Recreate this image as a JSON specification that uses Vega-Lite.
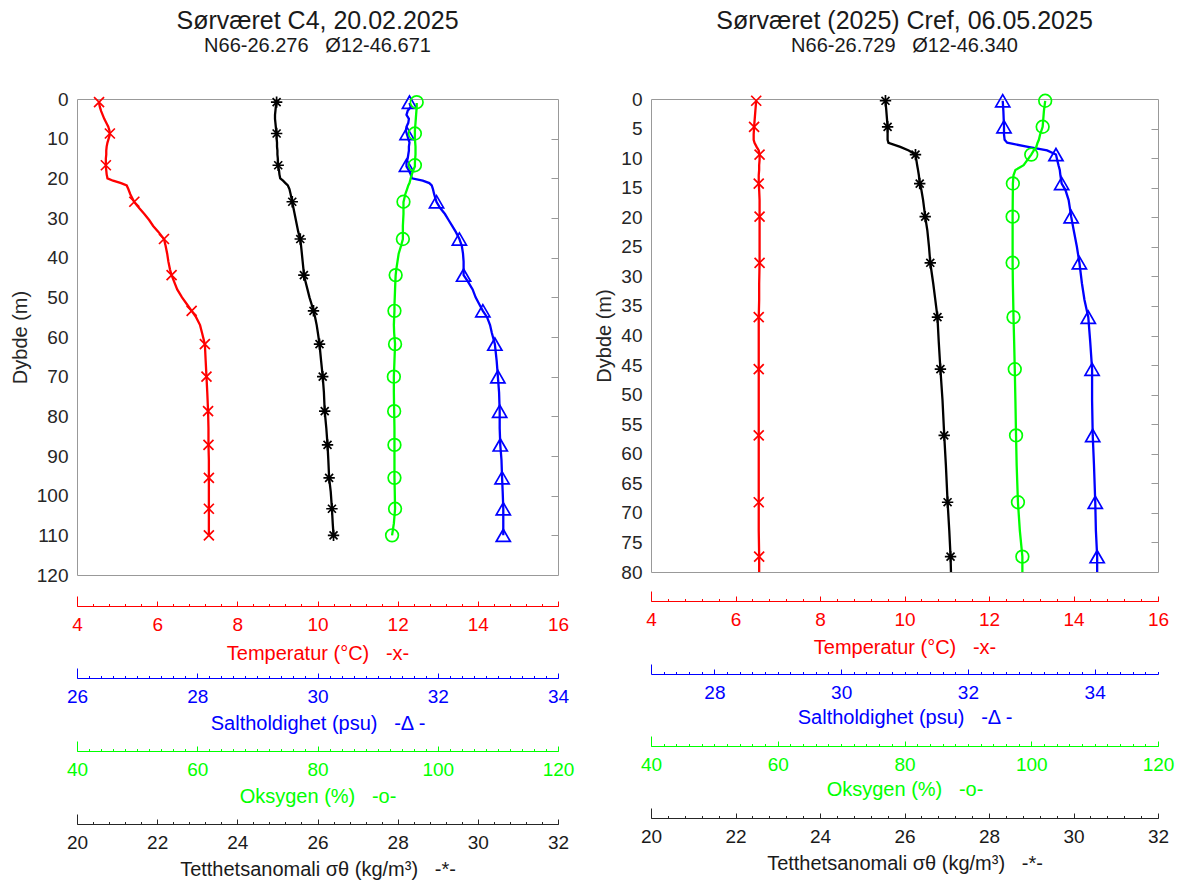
{
  "$schema": "https://vega.github.io/schema/vega-lite/v6.json",
  "padding": {"left": 9, "top": 8, "right": 0, "bottom": 0},
  "spacing": 19,
  "config": {
    "font": "Liberation Sans",
    "view": {"stroke": "#999999", "strokeWidth": 1},
    "axis": {"labelFont": "Liberation Sans", "titleFont": "Liberation Sans", "labelFontSize": 19, "titleFontSize": 20, "titleFontWeight": "normal", "grid": false, "labelFlush": false, "labelOverlap": false, "labelBound": false},
    "title": {"font": "Liberation Sans", "fontSize": 25, "fontWeight": "normal", "subtitleFont": "Liberation Sans", "subtitleFontSize": 20, "color": "#1a1a1a", "subtitleColor": "#1a1a1a", "anchor": "middle", "offset": 34, "subtitlePadding": 2}
  },
  "datasets": {
    "c4": [
      {"d":1,"T":4.55,"S":31.53,"O":96.5,"G":24.98},
      {"d":2,"T":4.57,"S":31.55,"O":96.5,"G":24.96},
      {"d":3,"T":4.6,"S":31.5,"O":96.45,"G":24.95},
      {"d":4,"T":4.64,"S":31.48,"O":96.4,"G":24.94},
      {"d":5,"T":4.68,"S":31.52,"O":96.35,"G":24.94},
      {"d":6,"T":4.73,"S":31.51,"O":96.3,"G":24.95},
      {"d":7,"T":4.78,"S":31.48,"O":96.25,"G":24.96},
      {"d":8,"T":4.81,"S":31.47,"O":96.2,"G":24.97},
      {"d":9,"T":4.82,"S":31.49,"O":96.2,"G":24.98},
      {"d":10,"T":4.79,"S":31.51,"O":96.2,"G":24.98},
      {"d":11,"T":4.76,"S":31.53,"O":96.25,"G":24.99},
      {"d":12,"T":4.74,"S":31.52,"O":96.3,"G":24.99},
      {"d":13,"T":4.73,"S":31.52,"O":96.3,"G":25.0},
      {"d":14,"T":4.73,"S":31.51,"O":96.3,"G":25.0},
      {"d":15,"T":4.72,"S":31.5,"O":96.25,"G":25.01},
      {"d":16,"T":4.72,"S":31.48,"O":96.2,"G":25.01},
      {"d":17,"T":4.72,"S":31.48,"O":96.2,"G":25.02},
      {"d":18,"T":4.73,"S":31.52,"O":95.9,"G":25.04},
      {"d":19,"T":4.74,"S":31.55,"O":95.7,"G":25.05},
      {"d":20,"T":4.76,"S":31.57,"O":95.5,"G":25.07},
      {"d":20.6,"T":4.9,"S":31.75,"O":95.4,"G":25.14},
      {"d":21.2,"T":5.1,"S":31.86,"O":95.3,"G":25.2},
      {"d":21.8,"T":5.24,"S":31.9,"O":95.1,"G":25.26},
      {"d":22.7,"T":5.28,"S":31.92,"O":94.9,"G":25.3},
      {"d":24,"T":5.33,"S":31.94,"O":94.6,"G":25.33},
      {"d":25,"T":5.38,"S":31.96,"O":94.45,"G":25.35},
      {"d":26,"T":5.43,"S":31.98,"O":94.3,"G":25.37},
      {"d":27.5,"T":5.55,"S":32.04,"O":94.3,"G":25.4},
      {"d":29,"T":5.68,"S":32.12,"O":94.3,"G":25.43},
      {"d":30.5,"T":5.8,"S":32.18,"O":94.25,"G":25.46},
      {"d":32,"T":5.9,"S":32.24,"O":94.2,"G":25.49},
      {"d":33.5,"T":6.03,"S":32.3,"O":94.2,"G":25.52},
      {"d":35.3,"T":6.17,"S":32.36,"O":94.2,"G":25.57},
      {"d":37,"T":6.21,"S":32.4,"O":93.9,"G":25.59},
      {"d":39,"T":6.25,"S":32.42,"O":93.5,"G":25.61},
      {"d":41,"T":6.28,"S":32.43,"O":93.3,"G":25.63},
      {"d":43,"T":6.32,"S":32.43,"O":93.1,"G":25.65},
      {"d":44.4,"T":6.36,"S":32.43,"O":93.0,"G":25.66},
      {"d":46,"T":6.42,"S":32.5,"O":92.95,"G":25.7},
      {"d":48,"T":6.5,"S":32.58,"O":92.9,"G":25.75},
      {"d":50,"T":6.62,"S":32.63,"O":92.85,"G":25.8},
      {"d":52,"T":6.76,"S":32.7,"O":92.8,"G":25.86},
      {"d":53.4,"T":6.86,"S":32.75,"O":92.8,"G":25.9},
      {"d":55,"T":6.97,"S":32.82,"O":92.75,"G":25.94},
      {"d":57,"T":7.07,"S":32.87,"O":92.7,"G":25.98},
      {"d":59,"T":7.12,"S":32.9,"O":92.75,"G":26.01},
      {"d":61.8,"T":7.19,"S":32.95,"O":92.9,"G":26.05},
      {"d":66,"T":7.21,"S":32.98,"O":92.8,"G":26.09},
      {"d":70,"T":7.23,"S":33.0,"O":92.7,"G":26.13},
      {"d":74,"T":7.25,"S":33.02,"O":92.7,"G":26.16},
      {"d":78.7,"T":7.27,"S":33.03,"O":92.75,"G":26.18},
      {"d":83,"T":7.28,"S":33.03,"O":92.8,"G":26.22},
      {"d":87.2,"T":7.28,"S":33.04,"O":92.8,"G":26.25},
      {"d":91,"T":7.29,"S":33.06,"O":92.8,"G":26.27},
      {"d":95.5,"T":7.29,"S":33.07,"O":92.8,"G":26.29},
      {"d":99,"T":7.29,"S":33.08,"O":92.85,"G":26.33},
      {"d":103.3,"T":7.29,"S":33.09,"O":92.9,"G":26.36},
      {"d":107,"T":7.29,"S":33.09,"O":92.7,"G":26.38},
      {"d":110,"T":7.29,"S":33.09,"O":92.4,"G":26.4}
    ],
    "c4m": [
      {"d":0.8,"T":4.55,"S":31.53,"O":96.5,"G":24.98},
      {"d":8.7,"T":4.82,"S":31.49,"O":96.2,"G":24.98},
      {"d":16.7,"T":4.72,"S":31.48,"O":96.2,"G":25.02},
      {"d":25.9,"T":5.43,"S":31.98,"O":94.3,"G":25.37},
      {"d":35.3,"T":6.17,"S":32.36,"O":94.2,"G":25.57},
      {"d":44.4,"T":6.36,"S":32.43,"O":93.0,"G":25.66},
      {"d":53.4,"T":6.86,"S":32.75,"O":92.8,"G":25.9},
      {"d":61.8,"T":7.19,"S":32.95,"O":92.9,"G":26.05},
      {"d":70,"T":7.23,"S":33.0,"O":92.7,"G":26.13},
      {"d":78.7,"T":7.27,"S":33.03,"O":92.75,"G":26.18},
      {"d":87.2,"T":7.28,"S":33.04,"O":92.8,"G":26.25},
      {"d":95.5,"T":7.29,"S":33.07,"O":92.8,"G":26.29},
      {"d":103.3,"T":7.29,"S":33.09,"O":92.9,"G":26.36},
      {"d":110,"T":7.29,"S":33.09,"O":92.4,"G":26.4}
    ],
    "cref": [
      {"d":0.3,"T":6.49,"S":32.55,"O":102.2,"G":25.55},
      {"d":2,"T":6.47,"S":32.56,"O":102.0,"G":25.57},
      {"d":4.7,"T":6.44,"S":32.57,"O":101.8,"G":25.6},
      {"d":6,"T":6.43,"S":32.57,"O":101.4,"G":25.6},
      {"d":6.9,"T":6.43,"S":32.58,"O":101.2,"G":25.6},
      {"d":7.4,"T":6.45,"S":32.62,"O":101.0,"G":25.62},
      {"d":8.1,"T":6.5,"S":32.95,"O":100.8,"G":25.9},
      {"d":8.7,"T":6.55,"S":33.25,"O":100.4,"G":26.1},
      {"d":9.4,"T":6.57,"S":33.39,"O":100.0,"G":26.26},
      {"d":10.3,"T":6.57,"S":33.41,"O":99.4,"G":26.28},
      {"d":11.2,"T":6.56,"S":33.43,"O":98.8,"G":26.3},
      {"d":12,"T":6.56,"S":33.45,"O":97.5,"G":26.32},
      {"d":12.9,"T":6.55,"S":33.46,"O":97.2,"G":26.34},
      {"d":14.3,"T":6.55,"S":33.48,"O":97.1,"G":26.36},
      {"d":15.4,"T":6.56,"S":33.54,"O":97.1,"G":26.4},
      {"d":17.1,"T":6.57,"S":33.59,"O":97.08,"G":26.44},
      {"d":19.9,"T":6.57,"S":33.63,"O":97.06,"G":26.49},
      {"d":22.2,"T":6.57,"S":33.67,"O":97.06,"G":26.54},
      {"d":25,"T":6.57,"S":33.72,"O":97.06,"G":26.58},
      {"d":27.7,"T":6.57,"S":33.76,"O":97.06,"G":26.61},
      {"d":31.2,"T":6.56,"S":33.8,"O":97.1,"G":26.68},
      {"d":34,"T":6.56,"S":33.84,"O":97.15,"G":26.73},
      {"d":36.9,"T":6.55,"S":33.9,"O":97.2,"G":26.78},
      {"d":41,"T":6.55,"S":33.93,"O":97.3,"G":26.81},
      {"d":45.7,"T":6.55,"S":33.96,"O":97.4,"G":26.85},
      {"d":51,"T":6.55,"S":33.96,"O":97.5,"G":26.9},
      {"d":56.9,"T":6.55,"S":33.97,"O":97.6,"G":26.94},
      {"d":62,"T":6.55,"S":33.99,"O":97.7,"G":26.98},
      {"d":68.2,"T":6.55,"S":34.01,"O":97.9,"G":27.02},
      {"d":73,"T":6.55,"S":34.02,"O":98.2,"G":27.06},
      {"d":77.4,"T":6.56,"S":34.04,"O":98.6,"G":27.09},
      {"d":80,"T":6.56,"S":34.04,"O":98.6,"G":27.1}
    ],
    "crefm": [
      {"d":0.3,"T":6.49,"S":32.55,"O":102.2,"G":25.55},
      {"d":4.7,"T":6.44,"S":32.57,"O":101.8,"G":25.6},
      {"d":9.4,"T":6.57,"S":33.39,"O":100.0,"G":26.26},
      {"d":14.3,"T":6.55,"S":33.48,"O":97.1,"G":26.36},
      {"d":19.9,"T":6.57,"S":33.63,"O":97.06,"G":26.49},
      {"d":27.7,"T":6.57,"S":33.76,"O":97.06,"G":26.61},
      {"d":36.9,"T":6.55,"S":33.9,"O":97.2,"G":26.78},
      {"d":45.7,"T":6.55,"S":33.96,"O":97.4,"G":26.85},
      {"d":56.9,"T":6.55,"S":33.97,"O":97.6,"G":26.94},
      {"d":68.2,"T":6.55,"S":34.01,"O":97.9,"G":27.02},
      {"d":77.4,"T":6.56,"S":34.04,"O":98.6,"G":27.09}
    ]
  },
  "hconcat": [
    {
      "title": {"text": "Sørværet C4, 20.02.2025", "subtitle": "N66-26.276\u00a0\u00a0\u00a0Ø12-46.671"},
      "width": 481,
      "height": 476,
      "resolve": {"scale": {"x": "independent"}, "axis": {"x": "independent", "y": "independent"}},
      "layer": [
        {
          "encoding": {"y": {"field": "d", "type": "quantitative", "scale": {"domain": [0, 120], "reverse": true, "nice": false, "zero": false},
            "axis": {"orient": "left", "values": [0,10,20,30,40,50,60,70,80,90,100,110,120], "ticks": false, "domain": false, "labelPadding": 9, "labelColor": "#262626", "title": "Dybde (m)", "titleColor": "#262626", "titlePadding": 6}}},
          "resolve": {"axis": {"x": "independent"}},
          "layer": [
            {"data": {"name": "c4"}, "mark": {"type": "line", "color": "#ff0000", "strokeWidth": 2.3},
             "encoding": {"order": {"field": "d", "type": "quantitative"},
               "x": {"field": "T", "type": "quantitative", "scale": {"domain": [4, 16], "nice": false, "zero": false},
                 "axis": {"orient": "bottom", "offset": 31, "values": [4,6,8,10,12,14,16], "tickSize": -5, "tickColor": "#ff0000", "domainColor": "#ff0000", "labelColor": "#ff0000", "labelPadding": 14, "title": "Temperatur (°C)\u00a0\u00a0\u00a0-x-", "titleColor": "#ff0000", "titlePadding": 9}}}},
            {"data": {"name": "c4m"}, "mark": {"type": "point", "shape": "M-1,-1L1,1M-1,1L1,-1", "color": "#ff0000", "filled": false, "strokeWidth": 1.7, "size": 100, "opacity": 1},
             "encoding": {
               "x": {"field": "T", "type": "quantitative", "scale": {"domain": [4, 16], "nice": false, "zero": false},
                 "axis": {"orient": "bottom", "offset": 31, "values": [4,4.4,4.8,5.2,5.6,6,6.4,6.8,7.2,7.6,8,8.4,8.8,9.2,9.6,10,10.4,10.8,11.2,11.6,12,12.4,12.8,13.2,13.6,14,14.4,14.8,15.2,15.6,16], "labels": false, "domain": false, "tickSize": {"condition": {"test": "datum.value == 4", "value": -10}, "value": -2.5}, "tickColor": "#ff0000", "title": null}}}}
          ]
        },
        {
          "encoding": {"y": {"field": "d", "type": "quantitative", "scale": {"domain": [0, 120], "reverse": true, "nice": false, "zero": false},
            "axis": {"orient": "right", "values": [10,20,30,40,50,60,70,80,90,100,110], "labels": false, "domain": false, "tickSize": -7, "tickColor": "#999999", "title": null}}},
          "resolve": {"axis": {"x": "independent"}},
          "layer": [
            {"data": {"name": "c4"}, "mark": {"type": "line", "color": "#0000ff", "strokeWidth": 2.3},
             "encoding": {"order": {"field": "d", "type": "quantitative"},
               "x": {"field": "S", "type": "quantitative", "scale": {"domain": [26, 34], "nice": false, "zero": false},
                 "axis": {"orient": "bottom", "offset": 103, "values": [26,28,30,32,34], "tickSize": -5, "tickColor": "#0000ff", "domainColor": "#0000ff", "labelColor": "#0000ff", "labelPadding": 14, "title": "Saltholdighet (psu)\u00a0\u00a0\u00a0-Δ -", "titleColor": "#0000ff", "titlePadding": 7}}}},
            {"data": {"name": "c4m"}, "mark": {"type": "point", "shape": "triangle-up", "color": "#0000ff", "filled": false, "strokeWidth": 1.7, "size": 200, "opacity": 1},
             "encoding": {
               "x": {"field": "S", "type": "quantitative", "scale": {"domain": [26, 34], "nice": false, "zero": false},
                 "axis": {"orient": "bottom", "offset": 103, "values": [26,26.2,26.4,26.6,26.8,27,27.2,27.4,27.6,27.8,28,28.2,28.4,28.6,28.8,29,29.2,29.4,29.6,29.8,30,30.2,30.4,30.6,30.8,31,31.2,31.4,31.6,31.8,32,32.2,32.4,32.6,32.8,33,33.2,33.4,33.6,33.8,34], "labels": false, "domain": false, "tickSize": {"condition": {"test": "datum.value == 26", "value": -10}, "value": -2.5}, "tickColor": "#0000ff", "title": null}}}}
          ]
        },
        {
          "encoding": {"y": {"field": "d", "type": "quantitative", "scale": {"domain": [0, 120], "reverse": true, "nice": false, "zero": false}, "axis": null}},
          "resolve": {"axis": {"x": "independent"}},
          "layer": [
            {"data": {"name": "c4"}, "mark": {"type": "line", "color": "#00ff00", "strokeWidth": 2.3},
             "encoding": {"order": {"field": "d", "type": "quantitative"},
               "x": {"field": "O", "type": "quantitative", "scale": {"domain": [40, 120], "nice": false, "zero": false},
                 "axis": {"orient": "bottom", "offset": 176, "values": [40,60,80,100,120], "tickSize": -5, "tickColor": "#00ff00", "domainColor": "#00ff00", "labelColor": "#00ff00", "labelPadding": 14, "title": "Oksygen (%)\u00a0\u00a0\u00a0-o-", "titleColor": "#00ff00", "titlePadding": 7}}}},
            {"data": {"name": "c4m"}, "mark": {"type": "point", "shape": "circle", "color": "#00ff00", "filled": false, "strokeWidth": 1.7, "size": 160, "opacity": 1},
             "encoding": {
               "x": {"field": "O", "type": "quantitative", "scale": {"domain": [40, 120], "nice": false, "zero": false},
                 "axis": {"orient": "bottom", "offset": 176, "values": [40,42,44,46,48,50,52,54,56,58,60,62,64,66,68,70,72,74,76,78,80,82,84,86,88,90,92,94,96,98,100,102,104,106,108,110,112,114,116,118,120], "labels": false, "domain": false, "tickSize": {"condition": {"test": "datum.value == 40", "value": -10}, "value": -2.5}, "tickColor": "#00ff00", "title": null}}}}
          ]
        },
        {
          "encoding": {"y": {"field": "d", "type": "quantitative", "scale": {"domain": [0, 120], "reverse": true, "nice": false, "zero": false}, "axis": null}},
          "resolve": {"axis": {"x": "independent"}},
          "layer": [
            {"data": {"name": "c4"}, "mark": {"type": "line", "color": "#000000", "strokeWidth": 2.3},
             "encoding": {"order": {"field": "d", "type": "quantitative"},
               "x": {"field": "G", "type": "quantitative", "scale": {"domain": [20, 32], "nice": false, "zero": false},
                 "axis": {"orient": "bottom", "offset": 249, "values": [20,22,24,26,28,30,32], "tickSize": -5, "tickColor": "#262626", "domainColor": "#262626", "labelColor": "#1a1a1a", "labelPadding": 14, "title": "Tetthetsanomali σθ (kg/m³)\u00a0\u00a0\u00a0-*-", "titleColor": "#1a1a1a", "titlePadding": 7}}}},
            {"data": {"name": "c4m"}, "mark": {"type": "point", "shape": "M0,-1L0,1M-1,0L1,0M-0.7,-0.7L0.7,0.7M-0.7,0.7L0.7,-0.7", "color": "#000000", "filled": false, "strokeWidth": 1.7, "size": 130, "opacity": 1},
             "encoding": {
               "x": {"field": "G", "type": "quantitative", "scale": {"domain": [20, 32], "nice": false, "zero": false},
                 "axis": {"orient": "bottom", "offset": 249, "values": [20,20.4,20.8,21.2,21.6,22,22.4,22.8,23.2,23.6,24,24.4,24.8,25.2,25.6,26,26.4,26.8,27.2,27.6,28,28.4,28.8,29.2,29.6,30,30.4,30.8,31.2,31.6,32], "labels": false, "domain": false, "tickSize": {"condition": {"test": "datum.value == 20", "value": -10}, "value": -2.5}, "tickColor": "#262626", "title": null}}}}
          ]
        }
      ]
    },
    {
      "title": {"text": "Sørværet (2025) Cref, 06.05.2025", "subtitle": "N66-26.729\u00a0\u00a0\u00a0Ø12-46.340"},
      "width": 507,
      "height": 473,
      "resolve": {"scale": {"x": "independent"}, "axis": {"x": "independent", "y": "independent"}},
      "layer": [
        {
          "encoding": {"y": {"field": "d", "type": "quantitative", "scale": {"domain": [0, 80], "reverse": true, "nice": false, "zero": false},
            "axis": {"orient": "left", "values": [0,5,10,15,20,25,30,35,40,45,50,55,60,65,70,75,80], "ticks": false, "domain": false, "labelPadding": 9, "labelColor": "#262626", "title": "Dybde (m)", "titleColor": "#262626", "titlePadding": 6}}},
          "resolve": {"axis": {"x": "independent"}},
          "layer": [
            {"data": {"name": "cref"}, "mark": {"type": "line", "color": "#ff0000", "strokeWidth": 2.3},
             "encoding": {"order": {"field": "d", "type": "quantitative"},
               "x": {"field": "T", "type": "quantitative", "scale": {"domain": [4, 16], "nice": false, "zero": false},
                 "axis": {"orient": "bottom", "offset": 29, "values": [4,6,8,10,12,14,16], "tickSize": -5, "tickColor": "#ff0000", "domainColor": "#ff0000", "labelColor": "#ff0000", "labelPadding": 14, "title": "Temperatur (°C)\u00a0\u00a0\u00a0-x-", "titleColor": "#ff0000", "titlePadding": 8}}}},
            {"data": {"name": "crefm"}, "mark": {"type": "point", "shape": "M-1,-1L1,1M-1,1L1,-1", "color": "#ff0000", "filled": false, "strokeWidth": 1.7, "size": 100, "opacity": 1},
             "encoding": {
               "x": {"field": "T", "type": "quantitative", "scale": {"domain": [4, 16], "nice": false, "zero": false},
                 "axis": {"orient": "bottom", "offset": 29, "values": [4,4.4,4.8,5.2,5.6,6,6.4,6.8,7.2,7.6,8,8.4,8.8,9.2,9.6,10,10.4,10.8,11.2,11.6,12,12.4,12.8,13.2,13.6,14,14.4,14.8,15.2,15.6,16], "labels": false, "domain": false, "tickSize": {"condition": {"test": "datum.value == 4", "value": -10}, "value": -2.5}, "tickColor": "#ff0000", "title": null}}}}
          ]
        },
        {
          "encoding": {"y": {"field": "d", "type": "quantitative", "scale": {"domain": [0, 80], "reverse": true, "nice": false, "zero": false},
            "axis": {"orient": "right", "values": [5,10,15,20,25,30,35,40,45,50,55,60,65,70,75], "labels": false, "domain": false, "tickSize": -7, "tickColor": "#999999", "title": null}}},
          "resolve": {"axis": {"x": "independent"}},
          "layer": [
            {"data": {"name": "cref"}, "mark": {"type": "line", "color": "#0000ff", "strokeWidth": 2.3},
             "encoding": {"order": {"field": "d", "type": "quantitative"},
               "x": {"field": "S", "type": "quantitative", "scale": {"domain": [27, 35], "nice": false, "zero": false},
                 "axis": {"orient": "bottom", "offset": 102, "values": [28,30,32,34], "tickSize": -5, "tickColor": "#0000ff", "domainColor": "#0000ff", "labelColor": "#0000ff", "labelPadding": 14, "title": "Saltholdighet (psu)\u00a0\u00a0\u00a0-Δ -", "titleColor": "#0000ff", "titlePadding": 5}}}},
            {"data": {"name": "crefm"}, "mark": {"type": "point", "shape": "triangle-up", "color": "#0000ff", "filled": false, "strokeWidth": 1.7, "size": 200, "opacity": 1},
             "encoding": {
               "x": {"field": "S", "type": "quantitative", "scale": {"domain": [27, 35], "nice": false, "zero": false},
                 "axis": {"orient": "bottom", "offset": 102, "values": [27,27.2,27.4,27.6,27.8,28,28.2,28.4,28.6,28.8,29,29.2,29.4,29.6,29.8,30,30.2,30.4,30.6,30.8,31,31.2,31.4,31.6,31.8,32,32.2,32.4,32.6,32.8,33,33.2,33.4,33.6,33.8,34,34.2,34.4,34.6,34.8,35], "labels": false, "domain": false, "tickSize": {"condition": {"test": "datum.value == 27", "value": -10}, "value": -2.5}, "tickColor": "#0000ff", "title": null}}}}
          ]
        },
        {
          "encoding": {"y": {"field": "d", "type": "quantitative", "scale": {"domain": [0, 80], "reverse": true, "nice": false, "zero": false}, "axis": null}},
          "resolve": {"axis": {"x": "independent"}},
          "layer": [
            {"data": {"name": "cref"}, "mark": {"type": "line", "color": "#00ff00", "strokeWidth": 2.3},
             "encoding": {"order": {"field": "d", "type": "quantitative"},
               "x": {"field": "O", "type": "quantitative", "scale": {"domain": [40, 120], "nice": false, "zero": false},
                 "axis": {"orient": "bottom", "offset": 174, "values": [40,60,80,100,120], "tickSize": -5, "tickColor": "#00ff00", "domainColor": "#00ff00", "labelColor": "#00ff00", "labelPadding": 14, "title": "Oksygen (%)\u00a0\u00a0\u00a0-o-", "titleColor": "#00ff00", "titlePadding": 5}}}},
            {"data": {"name": "crefm"}, "mark": {"type": "point", "shape": "circle", "color": "#00ff00", "filled": false, "strokeWidth": 1.7, "size": 160, "opacity": 1},
             "encoding": {
               "x": {"field": "O", "type": "quantitative", "scale": {"domain": [40, 120], "nice": false, "zero": false},
                 "axis": {"orient": "bottom", "offset": 174, "values": [40,42,44,46,48,50,52,54,56,58,60,62,64,66,68,70,72,74,76,78,80,82,84,86,88,90,92,94,96,98,100,102,104,106,108,110,112,114,116,118,120], "labels": false, "domain": false, "tickSize": {"condition": {"test": "datum.value == 40", "value": -10}, "value": -2.5}, "tickColor": "#00ff00", "title": null}}}}
          ]
        },
        {
          "encoding": {"y": {"field": "d", "type": "quantitative", "scale": {"domain": [0, 80], "reverse": true, "nice": false, "zero": false}, "axis": null}},
          "resolve": {"axis": {"x": "independent"}},
          "layer": [
            {"data": {"name": "cref"}, "mark": {"type": "line", "color": "#000000", "strokeWidth": 2.3},
             "encoding": {"order": {"field": "d", "type": "quantitative"},
               "x": {"field": "G", "type": "quantitative", "scale": {"domain": [20, 32], "nice": false, "zero": false},
                 "axis": {"orient": "bottom", "offset": 246, "values": [20,22,24,26,28,30,32], "tickSize": -5, "tickColor": "#262626", "domainColor": "#262626", "labelColor": "#1a1a1a", "labelPadding": 14, "title": "Tetthetsanomali σθ (kg/m³)\u00a0\u00a0\u00a0-*-", "titleColor": "#1a1a1a", "titlePadding": 7}}}},
            {"data": {"name": "crefm"}, "mark": {"type": "point", "shape": "M0,-1L0,1M-1,0L1,0M-0.7,-0.7L0.7,0.7M-0.7,0.7L0.7,-0.7", "color": "#000000", "filled": false, "strokeWidth": 1.7, "size": 130, "opacity": 1},
             "encoding": {
               "x": {"field": "G", "type": "quantitative", "scale": {"domain": [20, 32], "nice": false, "zero": false},
                 "axis": {"orient": "bottom", "offset": 246, "values": [20,20.4,20.8,21.2,21.6,22,22.4,22.8,23.2,23.6,24,24.4,24.8,25.2,25.6,26,26.4,26.8,27.2,27.6,28,28.4,28.8,29.2,29.6,30,30.4,30.8,31.2,31.6,32], "labels": false, "domain": false, "tickSize": {"condition": {"test": "datum.value == 20", "value": -10}, "value": -2.5}, "tickColor": "#262626", "title": null}}}}
          ]
        }
      ]
    }
  ]
}
